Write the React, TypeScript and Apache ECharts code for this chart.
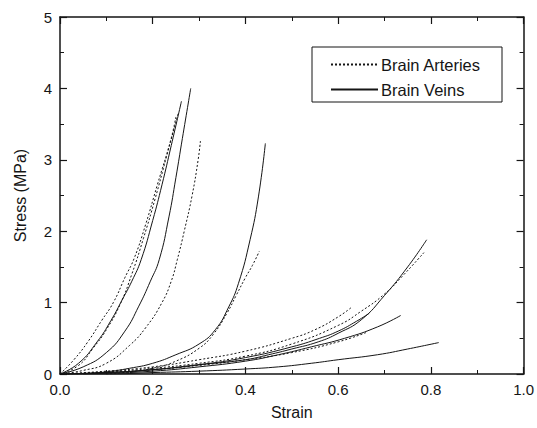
import React, { useEffect, useRef } from "react";
import * as echarts from "echarts";

// Strain (x) vs Stress in MPa (y)
const xTicks = [0, 0.2, 0.4, 0.6, 0.8, 1.0];
const yTicks = [0, 1, 2, 3, 4, 5];

// Brain arteries (dotted curves)
const artery1 = [[0, 0], [0.03, 0.2], [0.06, 0.45], [0.09, 0.75], [0.115, 1.0], [0.14, 1.35], [0.16, 1.62], [0.185, 2.1], [0.21, 2.65], [0.239, 3.28], [0.25, 3.6]];
const artery2 = [[0, 0], [0.04, 0.12], [0.07, 0.35], [0.1, 0.62], [0.13, 0.98], [0.155, 1.4], [0.18, 1.9], [0.205, 2.45], [0.23, 3.05], [0.255, 3.65]];
const artery3 = [[0, 0], [0.05, 0.05], [0.1, 0.15], [0.15, 0.4], [0.185, 0.65], [0.22, 1.0], [0.24, 1.3], [0.253, 1.6], [0.268, 2.0], [0.285, 2.5], [0.298, 3.0], [0.303, 3.27]];
const artery4 = [[0.1, 0], [0.15, 0.03], [0.2, 0.08], [0.25, 0.18], [0.3, 0.36], [0.33, 0.55], [0.36, 0.85], [0.38, 1.1], [0.4, 1.35], [0.415, 1.52], [0.43, 1.72]];
const artery5 = [[0, 0], [0.1, 0.03], [0.2, 0.08], [0.3, 0.15], [0.4, 0.25], [0.5, 0.42], [0.6, 0.68], [0.65, 0.88], [0.7, 1.12], [0.74, 1.38], [0.785, 1.7]];
const artery6 = [[0, 0], [0.1, 0.04], [0.2, 0.1], [0.3, 0.2], [0.4, 0.32], [0.5, 0.5], [0.55, 0.62], [0.6, 0.8], [0.63, 0.94]];
const artery7 = [[0, 0], [0.1, 0.02], [0.2, 0.06], [0.3, 0.12], [0.4, 0.2], [0.5, 0.3], [0.6, 0.45], [0.66, 0.58]];

// Brain veins (solid curves)
const vein1 = [[0, 0], [0.04, 0.15], [0.08, 0.45], [0.11, 0.75], [0.135, 1.05], [0.155, 1.3], [0.175, 1.6], [0.2, 2.15], [0.22, 2.65], [0.24, 3.2], [0.262, 3.82]];
const vein2 = [[0, 0], [0.05, 0.1], [0.1, 0.3], [0.14, 0.6], [0.17, 0.95], [0.195, 1.3], [0.214, 1.6], [0.235, 2.2], [0.25, 2.75], [0.264, 3.3], [0.282, 4.0]];
const vein3 = [[0.05, 0], [0.1, 0.03], [0.15, 0.08], [0.2, 0.15], [0.25, 0.27], [0.3, 0.42], [0.335, 0.62], [0.364, 0.94], [0.385, 1.27], [0.41, 1.88], [0.428, 2.48], [0.443, 3.23]];
const vein4 = [[0, 0], [0.1, 0.02], [0.2, 0.06], [0.3, 0.13], [0.4, 0.2], [0.45, 0.27], [0.5, 0.35], [0.557, 0.45], [0.6, 0.57], [0.65, 0.76], [0.7, 1.1], [0.75, 1.5], [0.791, 1.88]];
const vein5 = [[0, 0], [0.1, 0.02], [0.2, 0.06], [0.3, 0.13], [0.4, 0.23], [0.5, 0.38], [0.56, 0.5], [0.6, 0.6], [0.64, 0.74], [0.667, 0.85]];
const vein6 = [[0, 0], [0.1, 0.01], [0.2, 0.04], [0.3, 0.1], [0.4, 0.18], [0.471, 0.27], [0.542, 0.38], [0.614, 0.5], [0.685, 0.66], [0.735, 0.82]];
const vein7 = [[0, 0], [0.1, 0.0], [0.2, 0.02], [0.3, 0.04], [0.4, 0.07], [0.471, 0.1], [0.542, 0.15], [0.6, 0.2], [0.685, 0.27], [0.75, 0.35], [0.817, 0.44]];

const arteries = [artery1, artery2, artery3, artery4, artery5, artery6, artery7];
const veins = [vein1, vein2, vein3, vein4, vein5, vein6, vein7];

const FONT = "'Liberation Sans', Arial, sans-serif";
const INK = "#151515";

export default function App() {
  const ref = useRef<HTMLDivElement>(null);
  useEffect(() => {
    const chart = echarts.init(ref.current!, null, { renderer: "svg" });
    const axisLine = { show: true, onZero: false, lineStyle: { color: INK, width: 1.5 } };
    const axisTick = { show: true, inside: true, length: 7, lineStyle: { color: INK, width: 1.2 } };
    const minorTick = { show: true, splitNumber: 2, length: 4, lineStyle: { color: INK, width: 1 } };
    const xBase = { type: "value", min: xTicks[0], max: xTicks[xTicks.length - 1], interval: 0.2, axisLine, axisTick, minorTick, splitLine: { show: false } };
    const yBase = { type: "value", min: yTicks[0], max: yTicks[yTicks.length - 1], interval: 1, axisLine, axisTick, minorTick, splitLine: { show: false } };
    const series: any[] = [];
    arteries.forEach((d) =>
      series.push({
        name: "Brain Arteries",
        type: "line",
        data: d,
        symbol: "none",
        smooth: 0.5,
        itemStyle: { color: INK },
        lineStyle: { color: INK, width: 1, type: [2, 2] },
      })
    );
    veins.forEach((d) =>
      series.push({
        name: "Brain Veins",
        type: "line",
        data: d,
        symbol: "none",
        smooth: 0.5,
        itemStyle: { color: INK },
        lineStyle: { color: INK, width: 1, type: "solid" },
      })
    );
    chart.setOption({
      animation: false,
      backgroundColor: "#ffffff",
      grid: { left: 60, right: 10, top: 17, bottom: 54, containLabel: false },
      xAxis: [
        {
          ...xBase,
          position: "bottom",
          axisLabel: { fontSize: 15, color: INK, margin: 8, fontFamily: FONT, formatter: (v: number) => v.toFixed(1) },
          name: "Strain",
          nameLocation: "middle",
          nameGap: 30,
          nameTextStyle: { fontSize: 16, color: INK, fontFamily: FONT },
        },
        { ...xBase, position: "top", axisLabel: { show: false } },
      ],
      yAxis: [
        {
          ...yBase,
          position: "left",
          axisLabel: { fontSize: 15, color: INK, margin: 8, fontFamily: FONT },
          name: "Stress (MPa)",
          nameLocation: "middle",
          nameGap: 32,
          nameTextStyle: { fontSize: 16, color: INK, fontFamily: FONT },
        },
        { ...yBase, position: "right", axisLabel: { show: false } },
      ],
      legend: {
        data: ["Brain Arteries", "Brain Veins"],
        orient: "vertical",
        left: 330,
        top: 56,
        padding: 0,
        itemWidth: 47,
        itemHeight: 14,
        itemGap: 8,
        itemStyle: { opacity: 0 },
        textStyle: { fontSize: 16.5, color: INK, fontFamily: FONT, padding: [0, 0, 0, -2] },
        selectedMode: false,
      },
      graphic: [
        {
          type: "rect",
          shape: { x: 312, y: 47, width: 190, height: 55 },
          style: { fill: "none", stroke: INK, lineWidth: 1 },
          silent: true,
        },
      ],
      series,
    });
    return () => chart.dispose();
  }, []);
  return <div ref={ref} style={{ position: "fixed", left: 0, top: 0, width: 537, height: 428 }} />;
}
